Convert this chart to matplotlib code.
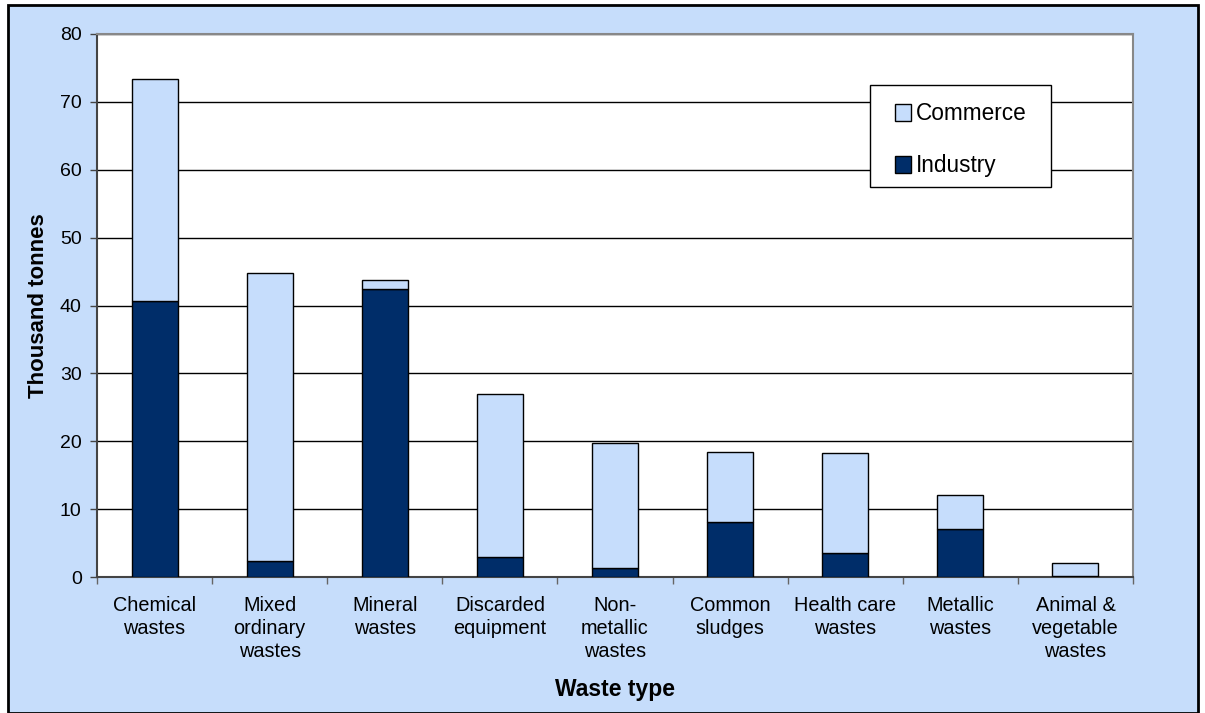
import matplotlib.pyplot as plt
import numpy as np
from matplotlib.patches import Rectangle

plt.rcParams['font.family'] = ['Liberation Sans', 'DejaVu Sans']

# waste streams, thousand tonnes
categories = ['Chemical\nwastes', 'Mixed\nordinary\nwastes', 'Mineral\nwastes',
              'Discarded\nequipment', 'Non-\nmetallic\nwastes', 'Common\nsludges',
              'Health care\nwastes', 'Metallic\nwastes', 'Animal &\nvegetable\nwastes']
industry = [40.7, 2.3, 42.4, 3.0, 1.3, 8.1, 3.6, 7.0, 0.2]
commerce = [32.6, 42.5, 1.4, 24.0, 18.4, 10.3, 14.7, 5.1, 1.9]

bg = '#c6ddfb'
light = '#c6ddfc'
dark = '#002d69'

fig = plt.figure(figsize=(12.05, 7.13), dpi=100)
fig.patch.set_facecolor('white')
# light blue chart area with a black frame
fig.patches.append(Rectangle((8 / 1205, 0), 1190 / 1205, 1 - 5 / 713,
                             transform=fig.transFigure, facecolor=bg,
                             edgecolor='black', linewidth=2, zorder=-5))

ax = fig.add_axes([97 / 1205, 1 - 577 / 713, 1036 / 1205, 543 / 713])
ax.set_facecolor('white')

x = np.arange(len(categories))
ax.bar(x, industry, width=0.4, color=dark, edgecolor='black', linewidth=1,
       label='Industry', zorder=3)
ax.bar(x, commerce, width=0.4, bottom=industry, color=light, edgecolor='black',
       linewidth=1, label='Commerce', zorder=3)

ax.set_xlim(-0.5, len(categories) - 0.5)
ax.set_ylim(0, 80)
ax.set_yticks(range(0, 81, 10))
ax.yaxis.grid(True, color='black', linewidth=1)
ax.set_axisbelow(True)

ax.set_xticks(x)
ax.set_xticklabels(categories, fontsize=14.3, linespacing=1.28)
ax.set_xticks(np.arange(-0.5, len(categories)), minor=True)
ax.tick_params(axis='x', which='major', length=0, pad=13.5)
ax.tick_params(axis='x', which='minor', length=5, width=1, color='#666666',
               direction='out')
ax.tick_params(axis='y', length=5, width=1, color='#444444', labelsize=14,
               pad=6)

for side in ['top', 'right']:
    ax.spines[side].set_color('#888888')
    ax.spines[side].set_linewidth(1.5)
ax.spines['left'].set_color('#444444')
ax.spines['bottom'].set_color('#444444')
ax.spines['left'].set_linewidth(1.5)
ax.spines['bottom'].set_linewidth(1.5)

ax.set_ylabel('Thousand tonnes', fontsize=16, fontweight='bold', labelpad=8)
ax.set_xlabel('Waste type', fontsize=16.5, fontweight='bold', labelpad=12)

# legend box drawn separately so its padding can differ per side
ax.add_patch(Rectangle((0.7461, 0.7182), 0.1747, 0.1879, transform=ax.transAxes,
                       facecolor='white', edgecolor='black', linewidth=1,
                       zorder=4, clip_on=False))
handles, labels = ax.get_legend_handles_labels()
leg = ax.legend(handles[::-1], labels[::-1], loc='upper left',
                bbox_to_anchor=(0.770, 0.874), fontsize=16.3, frameon=False,
                handlelength=0.72, handleheight=0.72, handletextpad=0.22,
                labelspacing=1.28, borderpad=0, borderaxespad=0)
leg.set_zorder(5)

fig.savefig('out.png', dpi=100, facecolor=fig.get_facecolor())
